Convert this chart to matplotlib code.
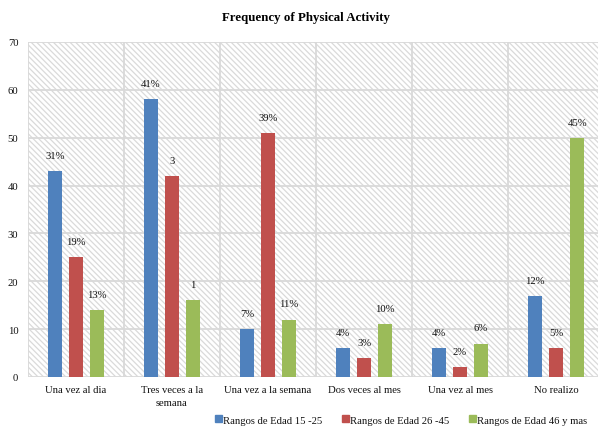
import matplotlib
matplotlib.use("Agg")
import matplotlib.pyplot as plt
import numpy as np
from matplotlib.patches import Rectangle, Patch

plt.rcParams["font.family"] = ["Liberation Serif", "DejaVu Serif"]
plt.rcParams["hatch.linewidth"] = 0.9

categories = ["Una vez al dia", "Tres veces a la\nsemana", "Una vez a la semana",
              "Dos veces al mes", "Una vez al mes", "No realizo"]
series_names = ["Rangos de Edad 15 -25", "Rangos de Edad 26 -45", "Rangos de Edad 46 y mas"]
edad_15_25 = [43, 58, 10, 6, 6, 17]
edad_26_45 = [25, 42, 51, 4, 2, 6]
edad_46_mas = [14, 16, 12, 11, 7, 50]
labels_15_25 = ["31%", "41%", "7%", "4%", "4%", "12%"]
labels_26_45 = ["19%", "3", "39%", "3%", "2%", "5%"]
labels_46_mas = ["13%", "1", "11%", "10%", "6%", "45%"]
y_ticks = [0, 10, 20, 30, 40, 50, 60, 70]

colors = ["#4F81BD", "#C0504D", "#9BBB59"]
series = [edad_15_25, edad_26_45, edad_46_mas]
labels = [labels_15_25, labels_26_45, labels_46_mas]
text_color = "#111111"
fs = 7.7

fig = plt.figure(figsize=(5.98, 4.31), dpi=100)
ax = fig.add_axes([28 / 598, 1 - 378 / 431, 576 / 598, 335 / 431])

# fine diagonal hatch behind the plot area
bg = Rectangle((0, 0), 1, 1, transform=ax.transAxes, facecolor="white",
               edgecolor="#dadada", linewidth=0, hatch="\\" * 6, zorder=0)
ax.add_patch(bg)

x = np.arange(len(categories))
width = 0.15
step = 0.22
for i, (vals, lab, col) in enumerate(zip(series, labels, colors)):
    pos = x + (i - 1) * step
    bars = ax.bar(pos, vals, width=width, color=col, zorder=3, label=series_names[i])
    for b, t in zip(bars, lab):
        ax.annotate(t, (b.get_x() + b.get_width() / 2, b.get_height()),
                    xytext=(0, 8), textcoords="offset points",
                    ha="center", va="bottom", fontsize=fs, color=text_color, zorder=4)

ax.set_xlim(-0.5, len(categories) - 0.5)
ax.set_ylim(0, 70)
ax.set_yticks(y_ticks)
ax.set_xticks(x)
ax.set_xticklabels(categories, fontsize=fs, color=text_color, linespacing=1.55)
ax.set_xticks(np.arange(-0.5, len(categories), 1.0), minor=True)
ax.tick_params(axis="y", length=0, pad=7, labelsize=fs, labelcolor=text_color)
ax.tick_params(axis="x", which="both", length=0, pad=6)
ax.grid(axis="y", color="#d9d9d9", linewidth=1.3, zorder=1)
ax.grid(axis="x", which="minor", color="#d9d9d9", linewidth=1.3, zorder=1)
ax.grid(axis="x", which="major", visible=False)
for s in ax.spines.values():
    s.set_visible(False)
ax.set_axisbelow(True)

fig.text(306 / 598, 1 - 18 / 431, "Frequency of Physical Activity",
         ha="center", va="center", fontsize=9.3, fontweight="bold", color="black")

handles = [Patch(facecolor=c, edgecolor=c) for c in colors]
fig.legend(handles, series_names, loc="center", bbox_to_anchor=(401 / 598, 1 - 421 / 431),
           ncol=3, frameon=False, fontsize=fs, handlelength=0.65, handleheight=0.65,
           handletextpad=0.15, columnspacing=1.8, borderaxespad=0, labelcolor=text_color)

fig.savefig("out.png", dpi=100)
